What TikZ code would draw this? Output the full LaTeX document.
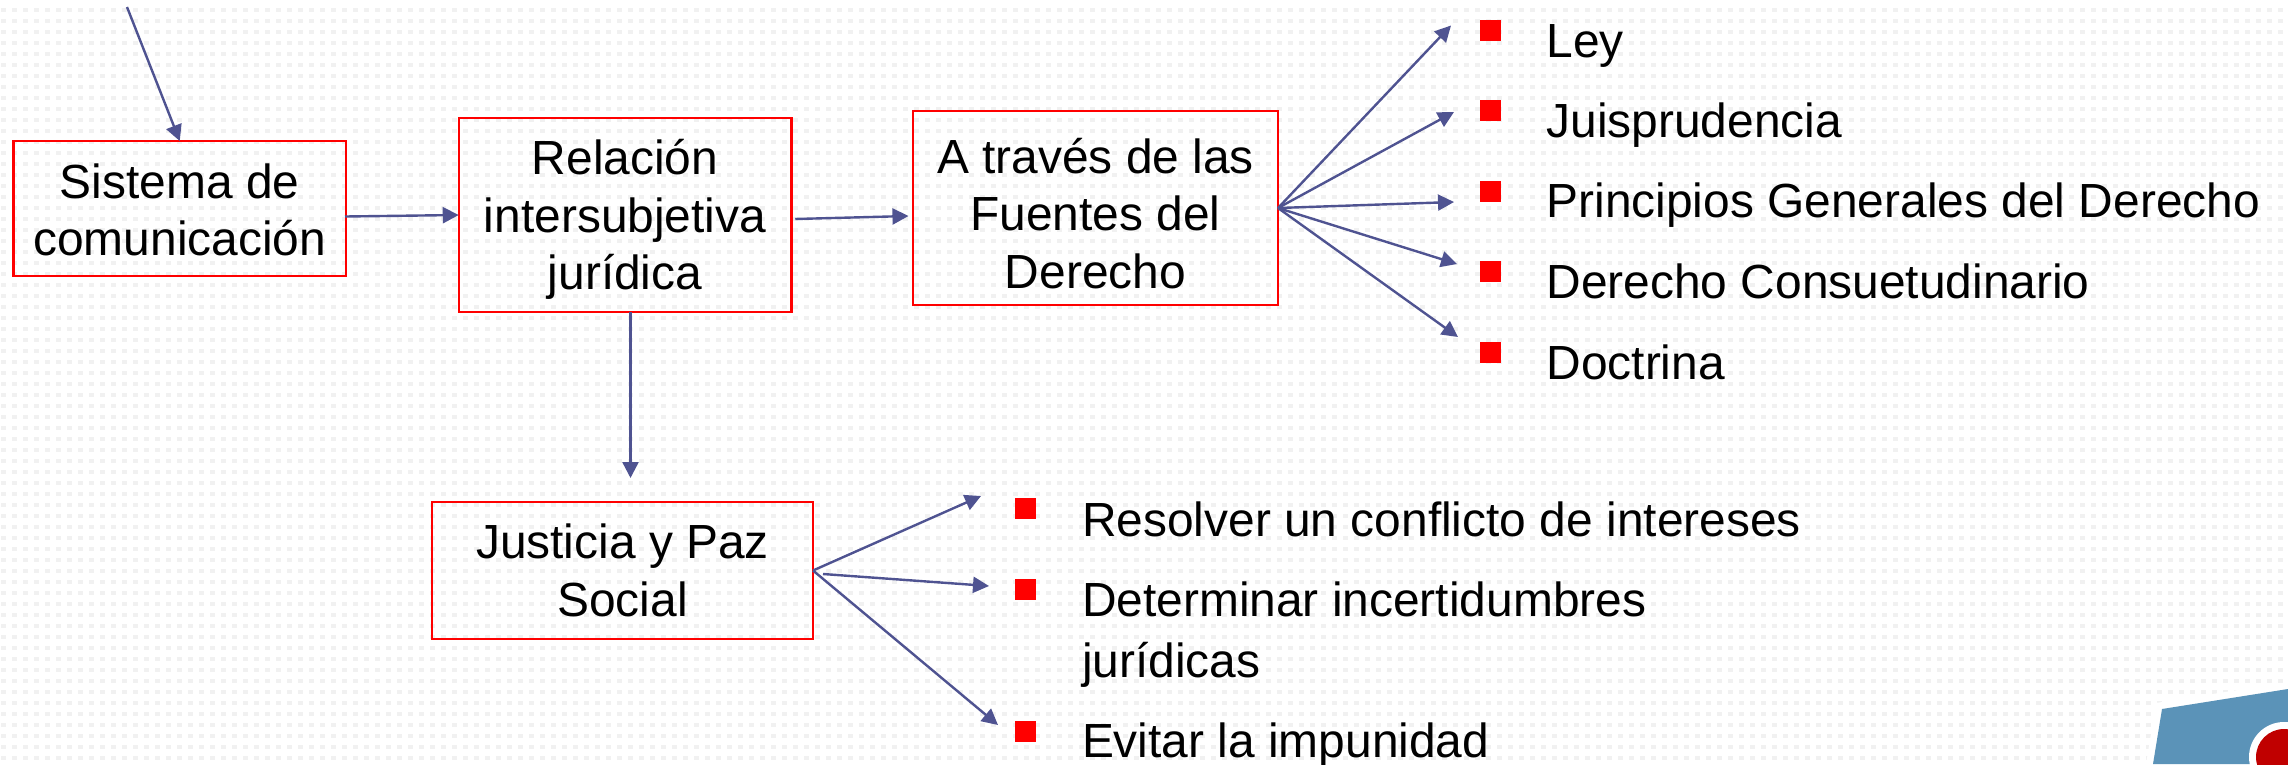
\documentclass[tikz,border=0pt]{standalone}
\usepackage{fontspec}
\setmainfont{Liberation Sans}
\usetikzlibrary{arrows.meta}
\definecolor{arrowblue}{HTML}{4F5391}
\definecolor{dotgrey}{HTML}{F1F1F1}
\definecolor{cornerblue}{HTML}{5B93B8}
\definecolor{cornerred}{HTML}{C00000}
\tikzset{
  box/.style={draw=red,line width=2.5pt,inner sep=0pt,outer sep=0pt,align=center,
    font=\fontsize{47.9}{57.3}\selectfont},
  bullet/.style={fill=red,inner sep=0pt,outer sep=0pt,minimum size=21pt},
  item/.style={inner sep=0pt,outer sep=0pt,anchor=base west,align=left,
    font=\fontsize{47.9}{61}\selectfont},
  link/.style={draw=arrowblue,line width=2.4pt,-{Triangle[length=16pt,width=16pt]}},
  dotrow/.style={draw=dotgrey,line width=4pt,dash pattern=on 5pt off 6pt}
}
\begin{document}
\begin{tikzpicture}[x=1pt,y=-1pt]
\useasboundingbox (0,0) rectangle (2288,764);
\fill[white] (0,0) rectangle (2288,764);
\foreach \j in {0,...,69}{
  \draw[dotrow] (1,{11*\j+10}) -- (2288,{11*\j+10});
}
% corner ornament
\fill[white] (2156,703) -- (2288,682) -- (2288,764) -- (2146,764) -- cycle;
\fill[cornerblue] (2162,709) -- (2288,689) -- (2288,764) -- (2153,764) -- cycle;
\begin{scope}
\clip (0,0) rectangle (2288,764);
\fill[white] (2284,757) circle[radius=35];
\fill[cornerred] (2284,757) circle[radius=28];
\end{scope}
% boxes
\node[box,minimum width=332.5pt,minimum height=135pt] (sis) at (179.75,208.5) {\rule{0pt}{38pt}Sistema de\\comunicación};
\node[box,minimum width=332.5pt,minimum height=194pt] (rel) at (625,215) {\rule{0pt}{44pt}Relación\\intersubjetiva\\jurídica};
\node[box,minimum width=365pt,minimum height=194pt] (afu) at (1095.5,208) {\rule{0pt}{46pt}A través de las\\Fuentes del\\Derecho};
\node[box,minimum width=381pt,minimum height=137pt] (jus) at (622.5,570.5) {Justicia y Paz\\Social};
% bullets
\node[bullet] (b1) at (1490.5,30.5) {};
\node[bullet] (b2) at (1490.5,110.5) {};
\node[bullet] (b3) at (1490.5,191.5) {};
\node[bullet] (b4) at (1490.5,271.5) {};
\node[bullet] (b5) at (1490.5,352.5) {};
\node[bullet] (c1) at (1025.5,508.5) {};
\node[bullet] (c2) at (1025.5,589.5) {};
\node[bullet] (c3) at (1025.5,731.5) {};
% items
\node[item] (t1) at (1546.5,57) {Ley};
\node[item] (t2) at (1546.5,137) {Juisprudencia};
\node[item] (t3) at (1546.5,217) {Principios Generales del Derecho};
\node[item] (t4) at (1546.5,298) {Derecho Consuetudinario};
\node[item] (t5) at (1546.5,379) {Doctrina};
\node[item] (u1) at (1082,536) {Resolver un conflicto de intereses};
\node[item] (u2) at (1082,677) {Determinar incertidumbres\\jurídicas};
\node[item] (u3) at (1082,757) {Evitar la impunidad};
% connectors
\coordinate (top) at (127,7);
\draw[link] (top) -- (sis.north);
\draw[link] ([xshift=-1pt,yshift=-8pt]sis.east) -- (rel.west);
\draw[link] ([xshift=4pt,yshift=-4pt]rel.east) -- ([xshift=-4.5pt,yshift=-8pt]afu.west);
\draw[link] ([xshift=5.5pt]rel.south) -- ([xshift=8pt,yshift=24pt]jus.north);
\draw[link] (afu.east) -- ([xshift=-29pt,yshift=5pt]b1.west);
\draw[link] (afu.east) -- ([xshift=-26pt,yshift=-1.5pt]b2.west);
\draw[link] (afu.east) -- ([xshift=-26pt,yshift=-10.5pt]b3.west);
\draw[link] (afu.east) -- ([xshift=-23pt,yshift=7.5pt]b4.west);
\draw[link] (afu.east) -- ([xshift=-22pt,yshift=15.5pt]b5.west);
\draw[link] (jus.east) -- ([xshift=-34pt,yshift=12.5pt]c1.west);
\draw[link] ([xshift=10pt,yshift=-3.5pt]jus.east) -- ([xshift=-26pt,yshift=3.5pt]c2.west);
\draw[link] (jus.east) -- ([xshift=-17pt,yshift=6.5pt]c3.west);
\end{tikzpicture}
\end{document}
